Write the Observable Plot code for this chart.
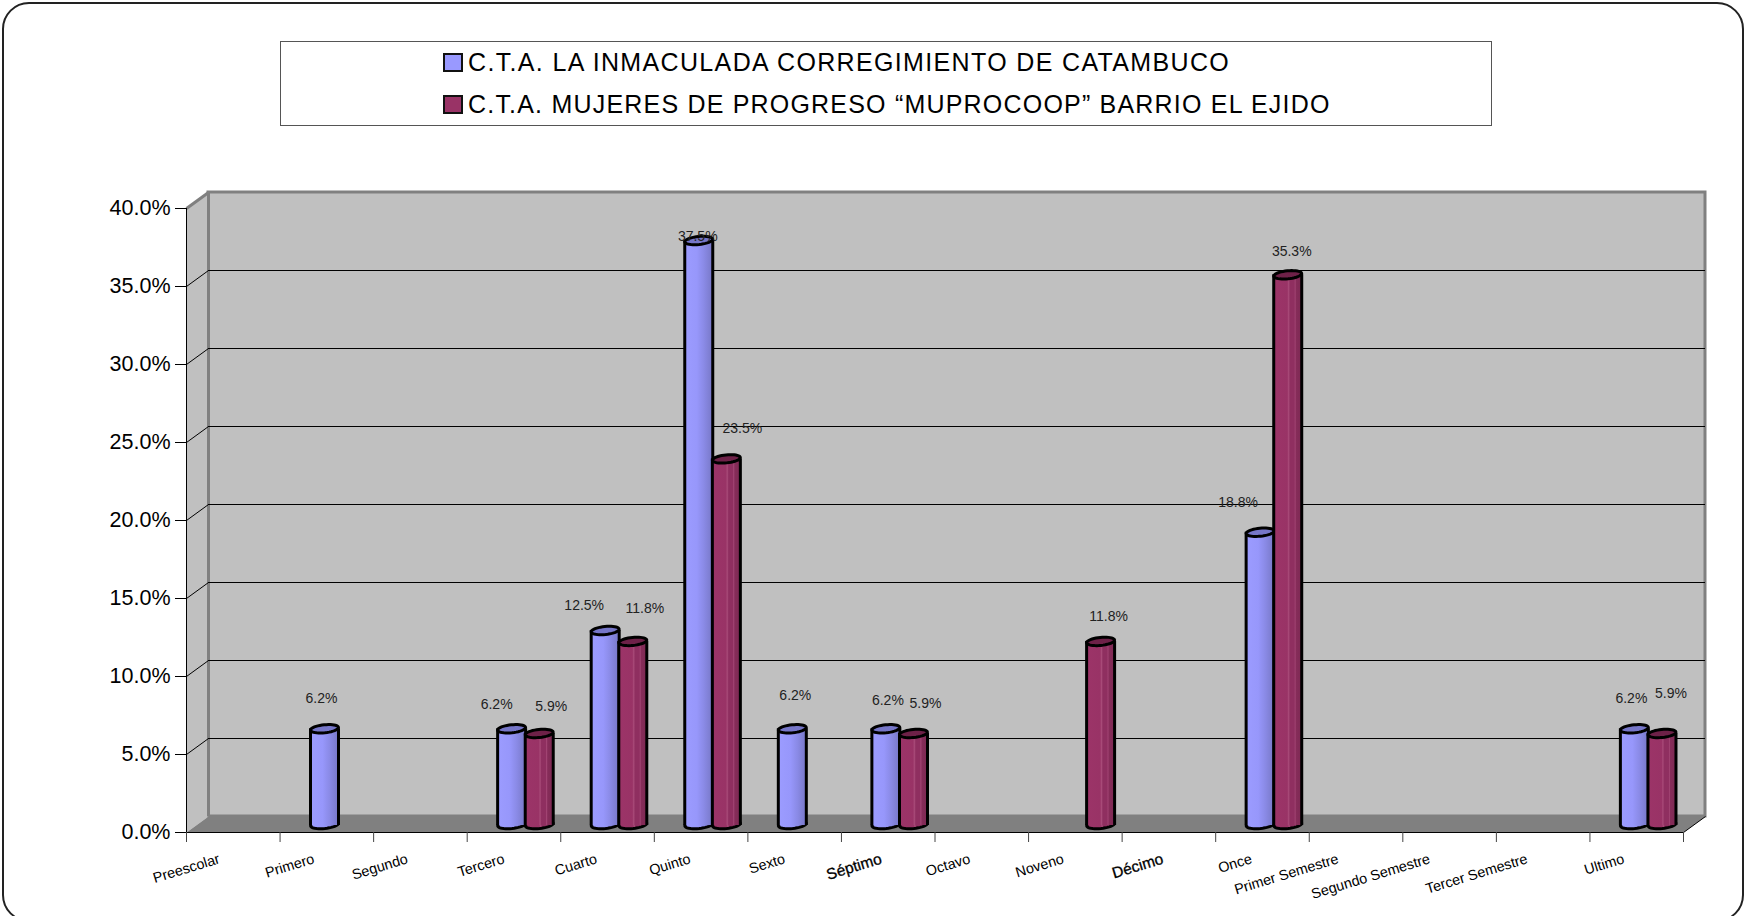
<!DOCTYPE html>
<html><head><meta charset="utf-8">
<script src="https://cdn.jsdelivr.net/npm/d3@7"></script>
<script src="https://cdn.jsdelivr.net/npm/@observablehq/plot@0.6"></script>
<style>
html,body{margin:0;padding:0;background:#fff;overflow:hidden;width:1744px;height:916px;font-family:"Liberation Sans",Arial,sans-serif}
#frame{position:absolute;left:2px;top:2px;width:1738px;height:916px;border:2px solid #222;border-radius:27px;box-sizing:content-box;pointer-events:none}
#head{position:relative;height:170px}
#legend{position:absolute;left:280px;top:41px;width:1210px;height:83px;border:1px solid #555;color:#000;font-size:25px;letter-spacing:1.35px}
.row{position:absolute;left:162px;white-space:nowrap;line-height:28px;padding-left:25px}
.row i{position:absolute;left:0;top:5px;width:16px;height:15px;border:2px solid #111}
svg{display:block}
</style></head><body>
<div id="frame"></div>
<div id="head"><div id="legend"></div></div>
<div id="chart"></div>
<script>
const categories = ["Preescolar","Primero","Segundo","Tercero","Cuarto","Quinto","Sexto","Séptimo","Octavo","Noveno","Décimo","Once","Primer Semestre","Segundo Semestre","Tercer Semestre","Ultimo"];
const seriesNames = ["C.T.A. LA INMACULADA CORREGIMIENTO DE CATAMBUCO","C.T.A. MUJERES DE PROGRESO “MUPROCOOP” BARRIO EL EJIDO"];
const inmaculada = [null,6.2,null,6.2,12.5,37.5,6.2,6.2,null,null,null,18.8,null,null,null,6.2];
const muprocoop  = [null,null,null,5.9,11.8,23.5,null,5.9,null,11.8,null,35.3,null,null,null,5.9];
const yTicks = [0,5,10,15,20,25,30,35,40];

const legendEl = document.getElementById("legend");
[["#9999ff",6,"1.35px"],["#993366",48,"1.2px"]].forEach(([c,t,ls],i)=>{
  const r=document.createElement("div");r.className="row";r.style.top=t+"px";r.style.letterSpacing=ls;
  const s=document.createElement("i");s.style.background=c;r.appendChild(s);
  r.appendChild(document.createTextNode(seriesNames[i]));legendEl.appendChild(r);
});

const W=1744,H=746,ml=186,mr=61,mt=38,mb=84;
const pxX=(W-ml-mr)/16, pxY=(H-mt-mb)/40;
const depthX=22/pxX, depthY=16/pxY;
const yMax=40,xMax=16,barW=14/pxX,lift=-7;

const ellipse=(a,b,rot)=>({draw(ctx){
  const c=Math.cos(rot),s=Math.sin(rot);
  for(let k=0;k<=40;k++){const t=k/40*2*Math.PI,ex=a*Math.cos(t),ey=b*Math.sin(t);
    const px=ex*c-ey*s,py=ex*s+ey*c; k?ctx.lineTo(px,py):ctx.moveTo(px,py);}
  ctx.closePath();
}});
const cap=ellipse(14,4,-0.1);

function defsMark(){
  const d=d3.create("svg:defs");
  const mk=(id,stops)=>{const g=d.append("linearGradient").attr("id",id).attr("x1",0).attr("x2",1).attr("y1",0).attr("y2",0);
    stops.forEach(([o,c])=>g.append("stop").attr("offset",o).attr("stop-color",c));};
  mk("bBlue",[[0,"#9c9cff"],[.45,"#9797fb"],[.7,"#8a8ae6"],[1,"#7878c8"]]);
  mk("bMaroon",[[0,"#9c3468"],[.5,"#993366"],[.55,"#a84a78"],[.6,"#8f2f60"],[.75,"#8f2f60"],[.78,"#a34574"],[.82,"#862c59"],[1,"#7e2a54"]]);
  return d.node();
}

function cylinder(vals,off,body,lid){
  const rows=vals.map((v,i)=>({i,v})).filter(d=>d.v!=null);
  const cx=d=>d.i+off;
  return [
    Plot.dot(rows,{x:cx,y:()=>0,dy:-8,symbol:cap,fill:body,stroke:"#000",strokeWidth:3}),
    Plot.rect(rows,{x1:d=>cx(d)-barW,x2:d=>cx(d)+barW,y1:()=>0,y2:d=>d.v,dy:lift,fill:body}),
    Plot.ruleX(rows,{x:d=>cx(d)-barW,y1:()=>0,y2:d=>d.v,dy:lift,stroke:"#000",strokeWidth:3}),
    Plot.ruleX(rows,{x:d=>cx(d)+barW,y1:()=>0,y2:d=>d.v,dy:lift,stroke:"#000",strokeWidth:3}),
    Plot.dot(rows,{x:cx,y:d=>d.v,dy:lift,symbol:cap,fill:lid,stroke:"#000",strokeWidth:3})
  ];
}

// label nudges: [category, series] -> [dx, dy] in the picture
const nudge={"1b":[-3,-37],"3b":[-15,-31],"3m":[12,-34],"4b":[-21,-32],"4m":[12,-40],"5b":[-1,-11],"5m":[16,-37],"6b":[3,-40],"7b":[2,-35],"7m":[12,-37],"9m":[8,-32],"11b":[-22,-37],"11m":[4,-30],"15b":[-3,-37],"15m":[9,-47]};
function valueLabels(vals,off,key){
  return vals.map((v,i)=>v==null?null:Plot.text([v],{x:()=>i+off,y:d=>d,text:d=>d.toFixed(1)+"%",dx:nudge[i+key][0],dy:nudge[i+key][1],fontSize:14,fill:"#222"})).filter(Boolean);
}

// how far each axis label ends left of its band centre
const labelShift=[14,13,13,10,11,11,10,7,12,12,6,11,18,20,16,13];
const heavy=new Set(["Séptimo","Décimo"]);
const catLabels=categories.map((c,i)=>Plot.text([c],{x:()=>i+.5,y:()=>0,text:d=>d,rotate:-17,textAnchor:"end",dx:-labelShift[i],dy:26,
  fontSize:heavy.has(c)?15.5:14.4,fill:"#000",stroke:heavy.has(c)?"#000":"none",strokeWidth:.3}));

const wallTicks=yTicks.filter(t=>t>0&&t<yMax);
const chart=Plot.plot({
  width:W,height:H,marginLeft:ml,marginRight:mr,marginTop:mt,marginBottom:mb,
  style:{background:"transparent",fontFamily:"'Liberation Sans',Arial,sans-serif"},
  x:{domain:[0,xMax]},y:{domain:[0,yMax]},
  marks:[
    defsMark,
    // back wall
    Plot.rect([0],{x1:depthX,x2:xMax+depthX,y1:depthY,y2:yMax+depthY,fill:"#c0c0c0",stroke:"#808080",strokeWidth:3}),
    // side wall
    Plot.line([[0,0],[depthX,depthY],[depthX,yMax+depthY],[0,yMax]],{fill:"#c0c0c0",stroke:"none"}),
    Plot.link([0],{x1:depthX,y1:depthY,x2:depthX,y2:yMax+depthY,stroke:"#808080",strokeWidth:3}),
    Plot.link([0],{x1:0,y1:yMax,x2:depthX,y2:yMax+depthY,stroke:"#808080",strokeWidth:3}),
    // gridlines
    Plot.ruleY(wallTicks,{x1:depthX,x2:xMax+depthX,y:d=>d+depthY,stroke:"#000",strokeWidth:1}),
    Plot.link(wallTicks,{x1:0,y1:d=>d,x2:depthX,y2:d=>d+depthY,stroke:"#000",strokeWidth:1}),
    // floor
    Plot.line([[0,0],[depthX,depthY],[xMax+depthX,depthY],[xMax,0],[0,0]],{fill:"#808080",stroke:"none"}),
    Plot.link([0],{x1:xMax,y1:0,x2:xMax+depthX,y2:depthY,stroke:"#000",strokeWidth:1}),
    Plot.ruleX([0],{y1:0,y2:yMax,stroke:"#000",strokeWidth:1}),
    Plot.ruleY([0],{x1:0,x2:xMax,stroke:"#000",strokeWidth:1.2}),
    Plot.axisY({ticks:yTicks,tickSize:11,tickPadding:5,tickFormat:d=>d.toFixed(1)+"%",fontSize:21.5,label:null,stroke:"#000",fill:"#000"}),
    Plot.axisX({ticks:d3.range(xMax+1),tickSize:10,tickFormat:()=>"",label:null,stroke:"#444"}),
    ...catLabels,
    ...cylinder(inmaculada,.475,"url(#bBlue)","#7676c8"),
    ...cylinder(muprocoop,.77,"url(#bMaroon)","#6e2148"),
    ...valueLabels(inmaculada,.475,"b"),
    ...valueLabels(muprocoop,.77,"m")
  ]
});
document.getElementById("chart").appendChild(chart);
</script>
</body></html>
